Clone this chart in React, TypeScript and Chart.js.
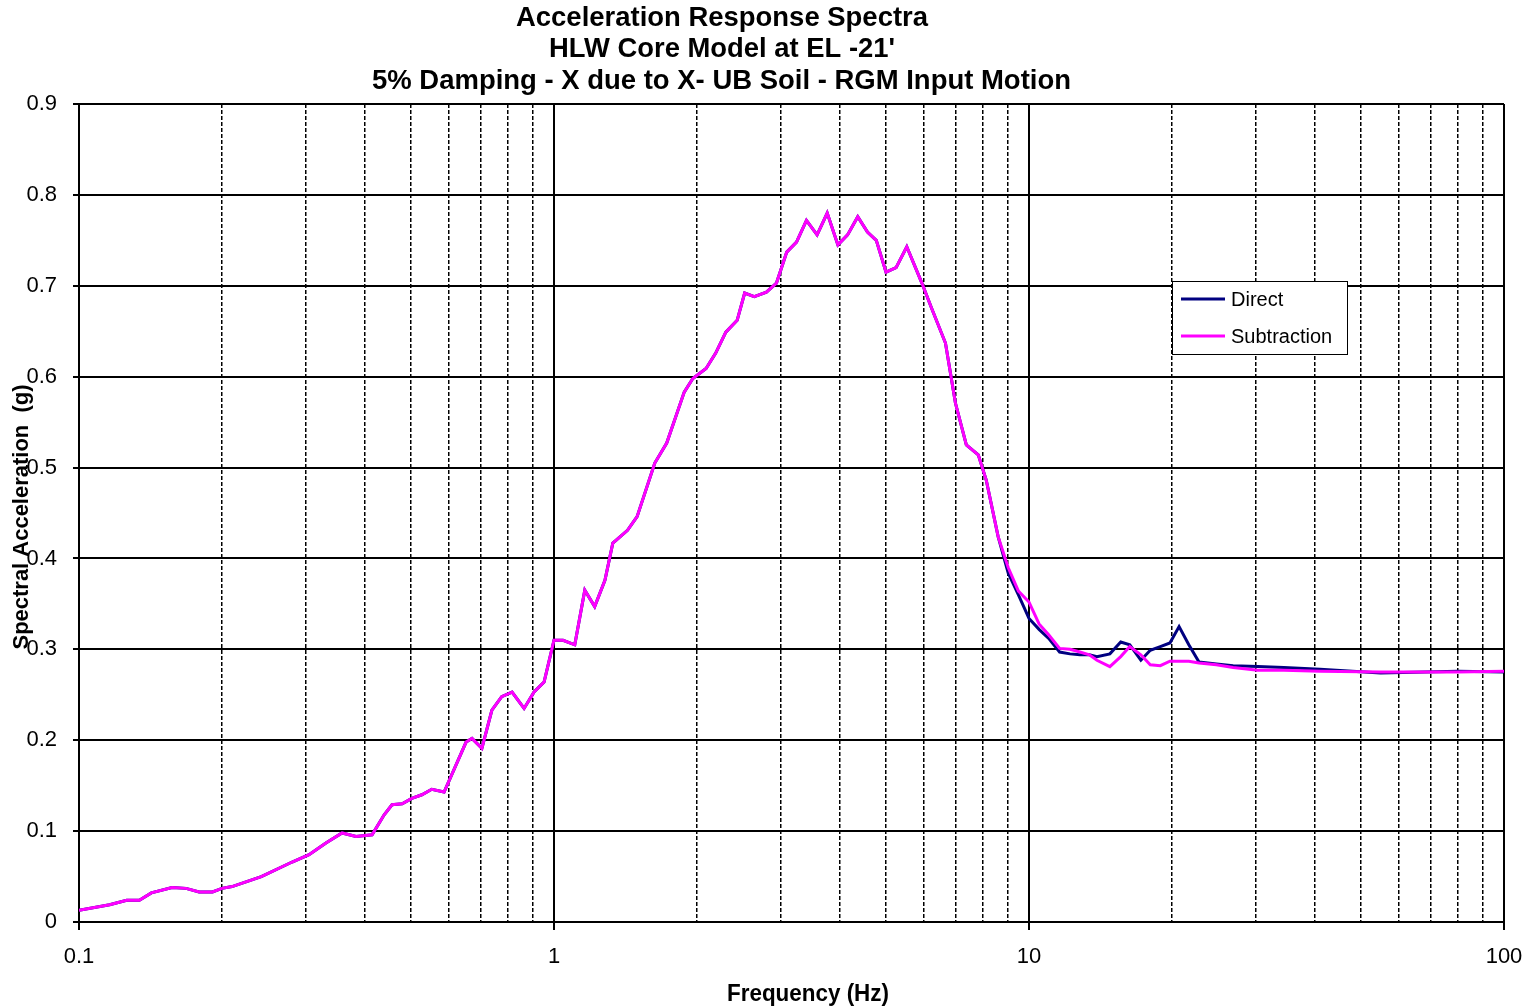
import React, { useEffect, useRef } from "react";
import { Chart, registerables } from "chart.js";

Chart.register(...registerables);

// ---------- text ----------
const titleLines = [
  "Acceleration Response Spectra",
  "HLW Core Model at EL -21'",
  "5% Damping - X due to X- UB Soil - RGM Input Motion",
];
const xAxisTitle = "Frequency (Hz)";
const yAxisTitle = "Spectral Acceleration  (g)";
const seriesNames = ["Direct", "Subtraction"];
const seriesColors = ["#000080", "#ff00ff"];

// ---------- ticks ----------
const xTickValues = [
  0.1, 0.2, 0.3, 0.4, 0.5, 0.6, 0.7, 0.8, 0.9,
  1, 2, 3, 4, 5, 6, 7, 8, 9,
  10, 20, 30, 40, 50, 60, 70, 80, 90,
  100,
];
const xDecadeValues = [0.1, 1, 10, 100];
const xDecadeLabels = ["0.1", "1", "10", "100"];
const yTickLabels = ["0", "0.1", "0.2", "0.3", "0.4", "0.5", "0.6", "0.7", "0.8", "0.9"];

// ---------- data: common part (both curves coincide) ----------
const commonFreqHz = [
  0.1, 0.116, 0.126, 0.134, 0.142,
  0.157, 0.168, 0.179, 0.191, 0.2,
  0.21, 0.242, 0.281, 0.305, 0.331,
  0.358, 0.383, 0.414, 0.439, 0.456,
  0.479, 0.502, 0.527, 0.553, 0.587,
  0.653, 0.672, 0.705, 0.74, 0.776,
  0.816, 0.865, 0.908, 0.953, 1.0,
  1.045, 1.106, 1.161, 1.218, 1.28,
  1.33, 1.428, 1.496, 1.63, 1.727,
  1.88, 1.96, 2.09, 2.19, 2.3,
  2.43, 2.52, 2.64, 2.8, 2.94,
  3.09, 3.24, 3.4, 3.58, 3.76,
  3.96, 4.15, 4.36, 4.57, 4.77,
  5.0, 5.25, 5.53, 5.95, 6.24,
  6.67, 7.0, 7.38, 7.82, 8.13,
  8.61,
];
const commonAccG = [
  0.013, 0.019, 0.024, 0.024, 0.032,
  0.038, 0.037, 0.033, 0.033, 0.037,
  0.039, 0.05, 0.066, 0.074, 0.087,
  0.098, 0.094, 0.096, 0.118, 0.129,
  0.13, 0.136, 0.14, 0.146, 0.143,
  0.198, 0.202, 0.191, 0.233, 0.248,
  0.253, 0.235, 0.253, 0.264, 0.31,
  0.31, 0.305, 0.365, 0.347, 0.376,
  0.417, 0.431, 0.446, 0.505, 0.527,
  0.583, 0.598, 0.609, 0.626, 0.649,
  0.662, 0.692, 0.688, 0.693, 0.703,
  0.737, 0.748, 0.772, 0.756, 0.78,
  0.745, 0.756, 0.776, 0.759, 0.75,
  0.715, 0.72, 0.743, 0.703, 0.675,
  0.637, 0.571, 0.525, 0.514, 0.486,
  0.424,
];

// ---------- data: high-frequency part (curves differ) ----------
const tailFreqHz = [
  9.04, 9.5, 10, 10.5, 11,
  11.6, 12.2, 12.8, 13.4, 13.9,
  14.8, 15.6, 16.3, 17.2, 18.0,
  18.9, 19.8, 20.7, 21.7, 22.8,
  24.8, 26.9, 30.3, 34.4, 41,
  55, 80, 100,
];
const directTailAccG = [
  0.384, 0.36, 0.334, 0.322, 0.312,
  0.297, 0.295, 0.294, 0.294, 0.292,
  0.295, 0.308, 0.305, 0.288, 0.299,
  0.303, 0.307, 0.325, 0.305, 0.286,
  0.284, 0.282, 0.281, 0.28, 0.278,
  0.274, 0.276, 0.275,
];
const subtractionTailAccG = [
  0.39, 0.364, 0.352, 0.328, 0.316,
  0.301, 0.3, 0.297, 0.294, 0.288,
  0.281, 0.292, 0.303, 0.294, 0.283,
  0.282, 0.287, 0.287, 0.287, 0.285,
  0.283, 0.28, 0.277, 0.277, 0.276,
  0.275, 0.275, 0.276,
];

const freqHz = commonFreqHz.concat(tailFreqHz);
const directAccG = commonAccG.concat(directTailAccG);
const subtractionAccG = commonAccG.concat(subtractionTailAccG);

const FONT = "'Liberation Sans', Arial, Helvetica, sans-serif";

const isDecade = (v: number) => {
  const l = Math.log10(v);
  return Math.abs(l - Math.round(l)) < 1e-6;
};

const textPlugin = {
  id: "customTexts",
  afterDraw(chart: any) {
    const ctx: CanvasRenderingContext2D = chart.ctx;
    ctx.save();
    ctx.fillStyle = "#000";
    ctx.textAlign = "center";
    ctx.textBaseline = "alphabetic";

    const fitText = (text: string, cx: number, by: number, font: string, width: number) => {
      ctx.font = font;
      const w = ctx.measureText(text).width;
      const s = width / w;
      ctx.save();
      ctx.translate(cx, by);
      ctx.scale(s, 1);
      ctx.fillText(text, 0, 0);
      ctx.restore();
    };

    // chart title
    fitText(titleLines[0], 722, 26, `bold 27px ${FONT}`, 412);
    fitText(titleLines[1], 722, 57, `bold 27px ${FONT}`, 346);
    fitText(titleLines[2], 721.5, 89, `bold 27px ${FONT}`, 699);

    // axis titles
    fitText(xAxisTitle, 808, 1001, `bold 23px ${FONT}`, 162);
    ctx.save();
    ctx.translate(28, 517);
    ctx.rotate(-Math.PI / 2);
    fitText(yAxisTitle, 0, 0, `bold 22px ${FONT}`, 265);
    ctx.restore();

    // legend
    const lx = 1172.5, ly = 281.5, lw = 175, lh = 73;
    ctx.fillStyle = "#fff";
    ctx.fillRect(lx, ly, lw, lh);
    ctx.strokeStyle = "#000";
    ctx.lineWidth = 1;
    ctx.strokeRect(lx, ly, lw, lh);
    const rows = [299, 336];
    ctx.textAlign = "left";
    ctx.textBaseline = "middle";
    ctx.font = `20px ${FONT}`;
    seriesNames.forEach((name, i) => {
      ctx.strokeStyle = seriesColors[i];
      ctx.lineWidth = 3;
      ctx.beginPath();
      ctx.moveTo(1181, rows[i]);
      ctx.lineTo(1225, rows[i]);
      ctx.stroke();
      ctx.fillStyle = "#000";
      ctx.fillText(name, 1231, rows[i] + 1);
    });
    ctx.restore();
  },
};

export default function App() {
  const canvasRef = useRef<HTMLCanvasElement | null>(null);

  useEffect(() => {
    if (!canvasRef.current) return;
    Chart.defaults.font.family = FONT;
    Chart.defaults.color = "#000";

    const chart = new Chart(canvasRef.current, {
      type: "line",
      data: {
        datasets: [
          {
            label: seriesNames[0],
            data: freqHz.map((f, i) => ({ x: f, y: directAccG[i] })),
            borderColor: seriesColors[0],
            backgroundColor: seriesColors[0],
            borderWidth: 3,
            pointRadius: 0,
            tension: 0,
            order: 1,
          },
          {
            label: seriesNames[1],
            data: freqHz.map((f, i) => ({ x: f, y: subtractionAccG[i] })),
            borderColor: seriesColors[1],
            backgroundColor: seriesColors[1],
            borderWidth: 3,
            pointRadius: 0,
            tension: 0,
            order: 0,
          },
        ],
      },
      options: {
        responsive: false,
        animation: false,
        devicePixelRatio: 1,
        layout: { padding: { top: 104, right: 24, left: 0, bottom: 0 } },
        plugins: {
          legend: { display: false },
          title: { display: false },
          tooltip: { enabled: false },
        },
        scales: {
          x: {
            type: "logarithmic",
            min: 0.1,
            max: 100,
            afterBuildTicks: (scale: any) => {
              scale.ticks = xTickValues.map((v) => ({ value: v }));
            },
            afterFit: (scale: any) => {
              scale.height = 86;
              scale.paddingLeft = 0;
              scale.paddingRight = 0;
            },
            ticks: {
              autoSkip: false,
              maxRotation: 0,
              minRotation: 0,
              padding: 14,
              color: "#000",
              font: { size: 22, family: FONT },
              callback: (value: any) => {
                const idx = xDecadeValues.findIndex((d) => Math.abs(d - Number(value)) < 1e-9);
                return idx >= 0 ? xDecadeLabels[idx] : "";
              },
            },
            grid: {
              color: "#000",
              lineWidth: (c: any) => (c.tick && isDecade(c.tick.value) ? 2 : 1.5),
              tickLength: 8,
              tickColor: (c: any) => (c.tick && isDecade(c.tick.value) ? "#000" : "rgba(0,0,0,0)"),
              tickWidth: 2,
            },
            border: {
              color: "#000",
              width: 2,
              dash: (c: any) => (c.tick && !isDecade(c.tick.value) ? [4, 2] : []),
            },
          },
          y: {
            type: "linear",
            min: 0,
            max: 0.9,
            afterFit: (scale: any) => {
              scale.width = 79;
              scale.paddingTop = 0;
              scale.paddingBottom = 0;
            },
            ticks: {
              stepSize: 0.1,
              padding: 16,
              color: "#000",
              font: { size: 22, family: FONT },
              callback: (value: any) => yTickLabels[Math.round(Number(value) * 10)] ?? "",
            },
            grid: {
              color: "#000",
              lineWidth: 2,
              tickLength: 6,
              tickColor: "#000",
            },
            border: { color: "#000", width: 2 },
          },
        },
      },
      plugins: [textPlugin],
    } as any);

    return () => chart.destroy();
  }, []);

  return (
    <div style={{ position: "absolute", left: 0, top: 0, width: 1528, height: 1008, background: "#fff" }}>
      <canvas ref={canvasRef} width={1528} height={1008} style={{ display: "block" }} />
    </div>
  );
}
